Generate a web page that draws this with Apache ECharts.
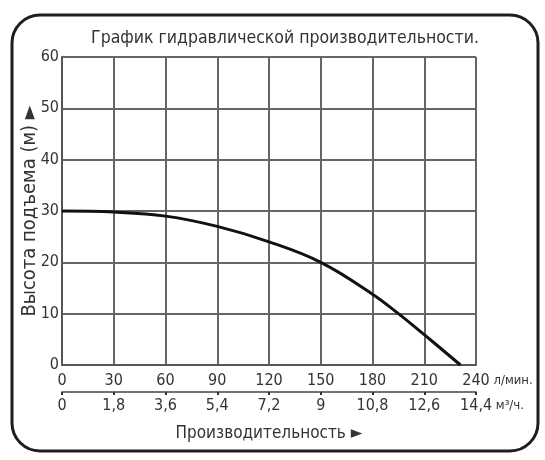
<!DOCTYPE html>
<html><head><meta charset="utf-8">
<script src="https://cdn.jsdelivr.net/npm/echarts@6/dist/echarts.min.js"></script>
<style>html,body{margin:0;padding:0;background:#fff}#c{width:545px;height:460px}</style>
</head><body><div id="c"></div>
<script>
var flowLpm = [0, 30, 60, 90, 120, 150, 180, 195, 210, 231];
var headM = [30, 29.8, 29, 27, 24, 20, 13.8, 10, 5.9, 0];
var lpmTicks = ['0','30','60','90','120','150','180','210','240'];
var m3Ticks = ['0','1,8','3,6','5,4','7,2','9','10,8','12,6','14,4'];
var yTicks = ['0','10','20','30','40','50','60'];
var FONT = "'DejaVu Sans Condensed','Liberation Sans',sans-serif";

function measure(t, size) {
  var c = document.createElement('canvas').getContext('2d');
  c.font = size + 'px ' + FONT;
  return Math.ceil(c.measureText(t).width);
}
var unit1 = ' л/мин.', unit2 = ' м³/ч.';
var w1 = measure(unit1, 13), w2 = measure(unit2, 13);

var chart = echarts.init(document.getElementById('c'), null, {renderer: 'canvas'});
var grid = {left: 62, right: 69, top: 57, bottom: 95};
chart.setOption({
  backgroundColor: '#fff',
  animation: false,
  title: {
    text: 'График гидравлической производительности.',
    left: 280, top: 24, textAlign: 'center',
    textStyle: {fontFamily: FONT, fontSize: 17.5, fontWeight: 'normal', color: '#333'}
  },
  graphic: [{
    type: 'rect', silent: true, z: -1,
    shape: {x: 12, y: 15, width: 526, height: 436, r: 28},
    style: {fill: 'none', stroke: '#1e1e1e', lineWidth: 3}
  }],
  grid: grid,
  xAxis: [{
    type: 'value', min: 0, max: 240, interval: 30, position: 'bottom',
    axisLine: {show: true, onZero: false, lineStyle: {color: '#555', width: 2}},
    axisTick: {show: false},
    splitLine: {show: true, lineStyle: {color: '#666', width: 2}},
    axisLabel: {
      margin: 8, fontFamily: FONT, fontSize: 16, color: '#333',
      showMinLabel: true, showMaxLabel: true, hideOverlap: false,
      formatter: function (v) {
        var s = lpmTicks[Math.round(v / 30)];
        if (v === 240) return '{sp| }{n|' + s + '}{u|' + unit1 + '}';
        return s;
      },
      rich: {
        sp: {width: w1, fontSize: 13},
        n: {fontFamily: FONT, fontSize: 16, color: '#333'},
        u: {fontFamily: FONT, fontSize: 13, color: '#333'}
      }
    }
  }, {
    type: 'value', min: 0, max: 240, interval: 30, position: 'bottom', offset: 27,
    axisLine: {show: true, onZero: false, lineStyle: {color: '#444', width: 1.5}},
    axisTick: {show: true, inside: false, length: 3, lineStyle: {color: '#333', width: 2}},
    splitLine: {show: false},
    name: 'Производительность ►', nameLocation: 'middle', nameGap: 33,
    nameTextStyle: {fontFamily: FONT, fontSize: 17, color: '#333'},
    axisLabel: {
      margin: 6, fontFamily: FONT, fontSize: 16, color: '#333',
      showMinLabel: true, showMaxLabel: true, hideOverlap: false,
      formatter: function (v) {
        var s = m3Ticks[Math.round(v / 30)];
        if (v === 240) return '{sp| }{n|' + s + '}{u|' + unit2 + '}';
        return s;
      },
      rich: {
        sp: {width: w2, fontSize: 13},
        n: {fontFamily: FONT, fontSize: 16, color: '#333'},
        u: {fontFamily: FONT, fontSize: 13, color: '#333'}
      }
    }
  }],
  yAxis: {
    type: 'value', min: 0, max: 60, interval: 10,
    axisLine: {show: true, lineStyle: {color: '#555', width: 2}},
    axisTick: {show: false},
    splitLine: {show: true, lineStyle: {color: '#666', width: 2}},
    axisLabel: {
      margin: 3, fontFamily: FONT, fontSize: 16, color: '#333',
      formatter: function (v) { return yTicks[Math.round(v / 10)]; }
    },
    name: 'Высота подъема (м) ►', nameLocation: 'middle', nameRotate: 90, nameGap: 22,
    nameMoveOverlap: false,
    nameTextStyle: {fontFamily: FONT, fontSize: 20, color: '#333'}
  },
  series: [{
    type: 'line', xAxisIndex: 0,
    data: flowLpm.map(function (x, i) { return [x, headM[i]]; }),
    smooth: 0.4, showSymbol: false, symbol: 'none',
    lineStyle: {color: '#111', width: 3}
  }]
});
</script></body></html>
